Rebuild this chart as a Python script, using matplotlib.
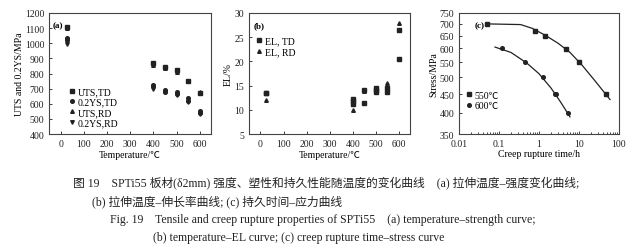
import numpy as np
import matplotlib
matplotlib.use("Agg")
import matplotlib.pyplot as plt

plt.rcParams['font.family'] = ['Liberation Serif', 'Noto Sans CJK SC', 'DejaVu Sans']
plt.rcParams['mathtext.fontset'] = 'stix'

# (a) strength vs temperature
temps_a = [28, 400, 450, 500, 550, 600]
uts_td = [1110, 870, 840, 825, 750, 670]
ys_td = [1035, 725, 690, 675, 640, 550]
uts_rd = [1100, 855, 835, 810, 750, 675]
ys_rd = [995, 700, 675, 660, 610, 535]
ys_td2 = [1020, 720, 680, 665, 620, 540]

# (b) elongation vs temperature
temps_b_td = [25, 25, 400, 400, 400, 450, 450, 500, 500, 500, 550, 550, 600, 600]
el_td = [13.5, 13.5, 12.3, 11.8, 11.2, 14.0, 11.5, 14.6, 14.0, 13.6, 14.6, 13.6, 26.5, 20.5]
temps_b_rd = [25, 400, 450, 500, 550, 600]
el_rd = [12.0, 10.0, 13.8, 14.3, 15.5, 28.0]

# (c) creep rupture
t_550 = [0.05, 0.8, 1.4, 4.8, 10, 47]
s_550 = [700, 668, 650, 598, 550, 450]
t_600 = [0.12, 0.45, 1.3, 2.5, 2.7, 5.2]
s_600 = [600, 550, 500, 450, 450, 400]
fit_t_550 = [0.05, 0.35, 0.7, 1.5, 3, 6, 12, 25, 60]
fit_s_550 = [700, 697, 680, 650, 620, 585, 540, 490, 435]
fit_t_600 = [0.08, 0.2, 0.5, 1.0, 2.0, 3.5, 6.0]
fit_s_600 = [605, 585, 547, 512, 468, 428, 390]

caption = [
    "图 19    SPTi55 板材(δ2mm) 强度、塑性和持久性能随温度的变化曲线    (a) 拉伸温度–强度变化曲线;",
    "(b) 拉伸温度–伸长率曲线; (c) 持久时间–应力曲线",
    "Fig. 19    Tensile and creep rupture properties of SPTi55    (a) temperature–strength curve;",
    "(b) temperature–EL curve; (c) creep rupture time–stress curve",
]

fig = plt.figure(figsize=(6.4, 2.53), dpi=100)
fs = 7
ms = 2.6
c = '#222222'

def style(ax):
    ax.tick_params(direction='in', labelsize=fs, length=2.5, width=0.6, colors=c)
    for s in ax.spines.values():
        s.set_linewidth(0.8)
        s.set_color('#444444')

ax1 = fig.add_axes([0.077, 0.466, 0.253, 0.479])
ax1.plot(temps_a, uts_td, 's', color=c, ms=ms, label='UTS,TD')
ax1.plot(temps_a, ys_td, 'o', color=c, ms=ms, label='0.2YS,TD')
ax1.plot(temps_a, uts_rd, '^', color=c, ms=ms, label='UTS,RD')
ax1.plot(temps_a, ys_rd, 'v', color=c, ms=ms, label='0.2YS,RD')
ax1.plot(temps_a, ys_td2, 'o', color=c, ms=ms)
ax1.set_xlim(-50, 650)
ax1.set_ylim(400, 1200)
ax1.set_xticks(range(0, 601, 100))
ax1.set_yticks(range(400, 1201, 100))
ax1.set_xlabel('Temperature/℃', fontsize=fs, labelpad=1)
ax1.set_ylabel('UTS and 0.2YS/MPa', fontsize=fs, labelpad=1)
ax1.text(0.02, 0.93, '(a)', transform=ax1.transAxes, fontsize=6.5, fontweight='bold', va='top')
ax1.legend(loc='lower left', bbox_to_anchor=(0.08, 0.0), fontsize=fs, frameon=False,
           handlelength=0.6, handletextpad=0.3, labelspacing=0.15, borderaxespad=0.3)
style(ax1)

ax2 = fig.add_axes([0.389, 0.466, 0.252, 0.479])
ax2.plot(temps_b_td, el_td, 's', color=c, ms=ms, label='EL, TD')
ax2.plot(temps_b_rd, el_rd, '^', color=c, ms=ms, label='EL, RD')
ax2.set_xlim(-50, 650)
ax2.set_ylim(5, 30)
ax2.set_xticks(range(0, 601, 100))
ax2.set_yticks(range(5, 31, 5))
ax2.set_xlabel('Temperature/℃', fontsize=fs, labelpad=1)
ax2.set_ylabel('EL/%', fontsize=fs, labelpad=1)
ax2.text(0.03, 0.93, '(b)', transform=ax2.transAxes, fontsize=6.5, fontweight='bold', va='top')
ax2.legend(loc='upper left', bbox_to_anchor=(0.0, 0.86), fontsize=fs, frameon=False,
           handlelength=0.6, handletextpad=0.3, labelspacing=0.15, borderaxespad=0.3)
style(ax2)

ax3 = fig.add_axes([0.717, 0.466, 0.25, 0.479])
ax3.plot(fit_t_550, fit_s_550, '-', color=c, lw=0.9)
ax3.plot(fit_t_600, fit_s_600, '-', color=c, lw=0.9)
ax3.plot(t_550, s_550, 's', color=c, ms=ms, label='550℃')
ax3.plot(t_600, s_600, 'o', color=c, ms=ms, label='600℃')
ax3.set_xscale('log')
ax3.set_yscale('log')
ax3.set_xlim(0.01, 100)
ax3.set_ylim(350, 750)
ax3.set_xticks([0.01, 0.1, 1, 10, 100])
ax3.set_xticklabels(['0.01', '0.1', '1', '10', '100'])
yt = list(range(350, 751, 50))
ax3.set_yticks(yt)
ax3.set_yticklabels([str(v) for v in yt])
ax3.yaxis.set_minor_locator(matplotlib.ticker.NullLocator())
ax3.set_xlabel('Creep rupture time/h', fontsize=fs, labelpad=1)
ax3.set_ylabel('Stress/MPa', fontsize=fs, labelpad=1)
ax3.text(0.1, 0.93, '(c)', transform=ax3.transAxes, fontsize=6.5, fontweight='bold', va='top')
ax3.legend(loc='lower left', bbox_to_anchor=(0.0, 0.14), fontsize=fs, frameon=False,
           handlelength=0.6, handletextpad=0.3, labelspacing=0.15, borderaxespad=0.3)
style(ax3)
ax3.tick_params(which='minor', direction='in', length=1.5, width=0.5)

cfs = 8.5
fig.text(73 / 640, 1 - 183 / 253, caption[0], fontsize=cfs, va='center', color=c)
fig.text(92 / 640, 1 - 202 / 253, caption[1], fontsize=cfs, va='center', color=c)
fig.text(110 / 640, 1 - 220 / 253, caption[2], fontsize=cfs, va='center', color=c)
fig.text(153 / 640, 1 - 238 / 253, caption[3], fontsize=cfs, va='center', color=c)

fig.savefig('out.png', dpi=100)
